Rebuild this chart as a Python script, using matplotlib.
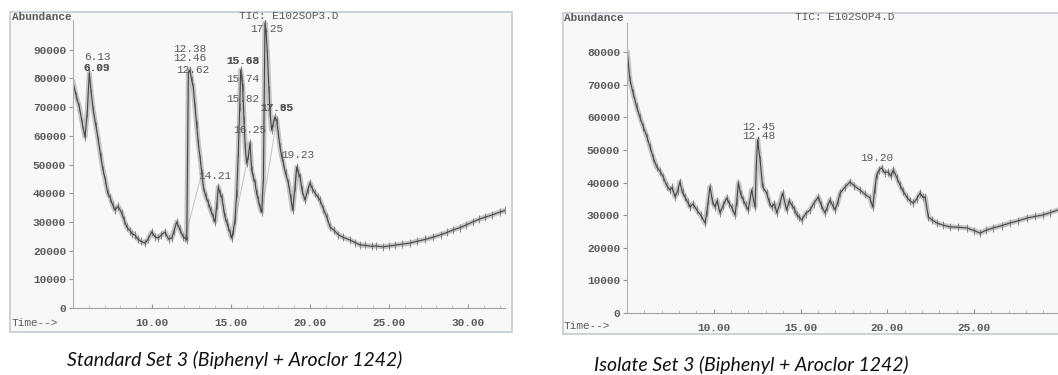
import matplotlib
matplotlib.use("Agg")
import matplotlib.pyplot as plt
from matplotlib.patches import Rectangle
from matplotlib.ticker import MultipleLocator, FuncFormatter

# Standard Set 3 trace (time in min, abundance)
t_std = [5.0, 5.2, 5.4, 5.6, 5.76, 5.9, 6.03, 6.15, 6.28, 6.45,
         6.6, 6.75, 6.9, 7.05, 7.2, 7.35, 7.5, 7.66, 7.85, 8.08,
         8.25, 8.4, 8.6, 8.75, 8.92, 9.1, 9.3, 9.56, 9.75, 9.98,
         10.2, 10.4, 10.6, 10.82, 11.05, 11.25, 11.4, 11.56, 11.75, 11.98,
         12.09, 12.2, 12.3, 12.4, 12.51, 12.61, 12.72, 12.82, 12.93, 13.05,
         13.15, 13.25, 13.4, 13.57, 13.72, 13.88, 13.99, 14.1, 14.2, 14.3,
         14.41, 14.52, 14.62, 14.72, 14.83, 14.95, 15.04, 15.15, 15.25, 15.36,
         15.46, 15.55, 15.61, 15.68, 15.74, 15.82, 15.9, 15.99, 16.1, 16.2,
         16.31, 16.42, 16.52, 16.62, 16.73, 16.84, 16.94, 17.05, 17.15, 17.22,
         17.3, 17.4, 17.47, 17.57, 17.68, 17.78, 17.89, 18.0, 18.1, 18.2,
         18.31, 18.45, 18.63, 18.78, 18.9, 19.05, 19.16, 19.27, 19.37, 19.5,
         19.68, 19.85, 20.0, 20.15, 20.32, 20.48, 20.63, 20.85, 21.06, 21.27,
         21.5, 21.8, 22.1, 22.53, 22.85, 23.16, 23.5, 23.9, 24.2, 24.6,
         25.0, 25.4, 25.8, 26.3, 26.8, 27.3, 27.8, 28.3, 28.7, 29.05,
         29.5, 29.9, 30.3, 30.7, 31.1, 31.5, 32.0, 32.34]
v_std = [78700, 74000, 70000, 64000, 59600, 68000, 81900, 75000, 69000, 63500,
         58500, 53000, 48100, 44500, 40000, 38500, 36000, 34100, 35500, 33100,
         30500, 28200, 27000, 25800, 25400, 24000, 23200, 22600, 24000, 26500,
         24800, 24400, 25500, 26500, 24000, 24400, 27000, 30000, 27500, 24700,
         24400, 23700, 81900, 82900, 79400, 77000, 70000, 64000, 57500, 52000,
         47000, 42200, 39000, 36600, 34000, 31700, 30000, 36000, 42200, 40000,
         38700, 35000, 31700, 30000, 28200, 26000, 24400, 27000, 30700, 40000,
         54000, 70000, 82900, 80000, 77000, 65500, 56000, 50500, 53000, 57500,
         48100, 45500, 43600, 40000, 37600, 35000, 33400, 45000, 99300, 96000,
         88900, 76000, 67900, 62000, 64500, 66500, 65500, 60500, 56100, 53000,
         50500, 47000, 43600, 38500, 34100, 42000, 49100, 47000, 45600, 41000,
         37600, 41000, 43600, 41500, 40000, 38800, 37600, 34500, 31700, 28200,
         27200, 25500, 24600, 23700, 22800, 22000, 21800, 21500, 21600, 21300,
         21600, 21900, 22200, 22600, 23300, 23900, 24700, 25600, 26400, 27200,
         28000, 29000, 30000, 30900, 31700, 32400, 33400, 34000]

# Isolate Set 3 trace
t_iso = [5.02, 5.17, 5.35, 5.56, 5.75, 5.94, 6.15, 6.33, 6.52, 6.71,
         6.9, 7.09, 7.3, 7.48, 7.6, 7.77, 7.92, 8.05, 8.2, 8.34,
         8.5, 8.63, 8.8, 9.02, 9.25, 9.5, 9.6, 9.69, 9.78, 9.92,
         10.07, 10.2, 10.36, 10.55, 10.75, 10.9, 11.03, 11.22, 11.32, 11.42,
         11.55, 11.7, 11.85, 11.99, 12.18, 12.38, 12.45, 12.53, 12.67, 12.82,
         13.05, 13.2, 13.34, 13.5, 13.63, 13.8, 13.97, 14.2, 14.35, 14.49,
         14.65, 14.78, 14.92, 15.07, 15.3, 15.55, 15.75, 16.03, 16.2, 16.41,
         16.55, 16.7, 16.85, 16.99, 17.15, 17.28, 17.55, 17.85, 18.1, 18.43,
         18.7, 19.0, 19.16, 19.28, 19.39, 19.55, 19.68, 19.85, 20.06, 20.2,
         20.35, 20.55, 20.73, 20.9, 21.12, 21.3, 21.5, 21.7, 21.89, 22.05,
         22.18, 22.37, 22.6, 22.85, 23.2, 23.62, 24.1, 24.58, 25.0, 25.35,
         25.7, 26.11, 26.6, 27.07, 27.55, 28.04, 28.5, 29.0, 29.4, 29.84,
         30.3]
v_iso = [79800, 71500, 67500, 63200, 60000, 57100, 54000, 50900, 47500, 44800,
         43500, 41700, 39000, 37700, 38500, 35600, 37500, 40200, 37000, 35600,
         34000, 32500, 33500, 31600, 30000, 27600, 31000, 34700, 38700, 34500,
         32500, 34500, 30700, 33000, 35300, 33500, 32500, 30100, 34000, 39900,
         36500, 34700, 33000, 31600, 37700, 32500, 45000, 53100, 46900, 38700,
         36800, 34000, 32500, 33500, 30700, 33500, 36800, 31600, 34500, 33100,
         32000, 30100, 29500, 28500, 30500, 31600, 33500, 35600, 33000, 30700,
         32500, 34700, 33000, 31600, 34000, 36800, 38500, 40200, 39000, 37700,
         36500, 35300, 32500, 38000, 42300, 44000, 44500, 43000, 43300, 42000,
         43900, 41500, 39300, 37500, 35600, 34500, 33700, 35000, 36800, 35500,
         35600, 29400, 28500, 27600, 27000, 26400, 26300, 26100, 25300, 24500,
         25400, 26100, 26800, 27600, 28300, 29100, 29600, 30100, 30800, 31600,
         32000]

# peak labels (text, time, abundance, bold)
std_peaks = [("6.13", 6.52, 87400, False), ("6.03", 6.52, 83600, True), ("6.09", 6.52, 83600, True),
             ("12.38", 12.41, 90200, False), ("12.46", 12.41, 87100, False), ("12.62", 12.59, 82900, False),
             ("15.63", 15.76, 86000, True), ("15.68", 15.76, 86000, True), ("15.74", 15.72, 79800, False),
             ("15.82", 15.76, 72800, False), ("16.25", 16.2, 62000, False), ("17.25", 17.28, 97200, False),
             ("17.85", 17.91, 69700, True), ("17.95", 17.91, 69700, True), ("19.23", 19.24, 53300, False),
             ("14.21", 13.99, 46000, False)]
iso_peaks = [("12.45", 12.61, 57000, False), ("12.48", 12.61, 54300, False), ("19.20", 19.41, 47500, False)]

# thin baseline lines of the integrator
std_baselines = [((12.09, 13.15), (24400, 47000)), ((15.04, 15.99), (24400, 50500)),
                 ((16.94, 17.89), (33400, 65500)), ((18.9, 19.16), (34100, 49100))]

mono = "Liberation Mono"
txtc = "#5a5a5a"

fig = plt.figure(figsize=(10.58, 3.75), dpi=100)
W, H = 1058.0, 375.0

def px(x0, y0, x1, y1):   # pixel box -> figure fraction rect
    return [x0 / W, 1 - y1 / H, (x1 - x0) / W, (y1 - y0) / H]

# outer frames, kept behind the axes
for box in [(10, 12, 512, 332), (563, 13, 1068, 334)]:
    r = px(*box)
    fig.add_artist(Rectangle((r[0], r[1]), r[2], r[3], transform=fig.transFigure,
                             facecolor="#f8f8f8", edgecolor="#c5cad4", lw=1.2, zorder=-5))

def setup(ax, xlim, ylim, yticks, xticks):
    ax.set_zorder(2)
    ax.set_facecolor("none")
    ax.set_xlim(*xlim)
    ax.set_ylim(*ylim)
    for s in ["top", "right"]:
        ax.spines[s].set_visible(False)
    ax.spines["left"].set_color("#b0b0b0")
    ax.spines["left"].set_linestyle((0, (1, 1)))
    ax.spines["bottom"].set_color("#a0a0a0")
    ax.set_yticks(yticks)
    ax.set_xticks(xticks)
    ax.xaxis.set_minor_locator(MultipleLocator(1))
    ax.xaxis.set_major_formatter(FuncFormatter(lambda v, p: "%.2f" % v))
    ax.tick_params(axis="y", direction="out", length=3, color="#999999", labelcolor=txtc,
                   labelsize=8, pad=2)
    ax.tick_params(axis="x", which="major", direction="in", length=3, color="#999999",
                   labelcolor=txtc, labelsize=8, pad=7)
    ax.tick_params(axis="x", which="minor", direction="in", length=2, color="#bbbbbb")
    for lab in ax.get_xticklabels() + ax.get_yticklabels():
        lab.set_fontfamily(mono)
        lab.set_fontweight("bold")

def trace(ax, t, v):
    # fuzzy band + bristles + thin core, like a noisy TIC print
    ax.plot(t, v, color="#9a9a9a", lw=3.6, alpha=0.55, solid_joinstyle="round")
    ax.plot(t, v, ls="none", marker="|", ms=6, mew=0.7, color="#707070", alpha=0.8)
    ax.plot(t, v, color="#454545", lw=0.8)

# left chart
ax1 = fig.add_axes(px(73, 20, 505, 308))
setup(ax1, (5.0, 32.34), (0, 100350), range(0, 100000, 10000), [10, 15, 20, 25, 30])
for xs, ys in std_baselines:
    ax1.plot(xs, ys, color="#c4c4c4", lw=0.7)
trace(ax1, t_std, v_std)
for s, x, y, b in std_peaks:
    ax1.text(x, y, s, ha="center", va="center", fontsize=8, family=mono, color=txtc,
             fontweight="bold" if b else "normal")

# right chart (runs past the right edge of the picture)
ax2 = fig.add_axes(px(627, 22, 1070, 313))
setup(ax2, (5.0, 5.0 + 443 / 17.35), (0, 89260), range(0, 90000, 10000), [10, 15, 20, 25])
trace(ax2, t_iso, v_iso)
for s, x, y, b in iso_peaks:
    ax2.text(x, y, s, ha="center", va="center", fontsize=8, family=mono, color=txtc)

# header / footer texts of each frame
fig.text(12 / W, 1 - 17 / H, "Abundance", ha="left", va="center", fontsize=8, family=mono,
         color=txtc, fontweight="bold")
fig.text(289 / W, 1 - 16 / H, "TIC: E102SOP3.D", ha="center", va="center", fontsize=8,
         family=mono, color=txtc)
fig.text(12 / W, 1 - 323 / H, "Time-->", ha="left", va="center", fontsize=8, family=mono,
         color=txtc)
fig.text(564 / W, 1 - 18 / H, "Abundance", ha="left", va="center", fontsize=8, family=mono,
         color=txtc, fontweight="bold")
fig.text(845 / W, 1 - 17 / H, "TIC: E102SOP4.D", ha="center", va="center", fontsize=8,
         family=mono, color=txtc)
fig.text(564 / W, 1 - 326 / H, "Time-->", ha="left", va="center", fontsize=8, family=mono,
         color=txtc)

# captions
fig.text(235 / W, 1 - 360 / H, "Standard Set 3 (Biphenyl + Aroclor 1242)", ha="center",
         va="center", fontsize=14, family="Lato", style="italic", color="#111111")
fig.text(751 / W, 1 - 365 / H, "Isolate Set 3 (Biphenyl + Aroclor 1242)", ha="center",
         va="center", fontsize=14, family="Lato", style="italic", color="#111111")

fig.savefig("out.png", dpi=100)
